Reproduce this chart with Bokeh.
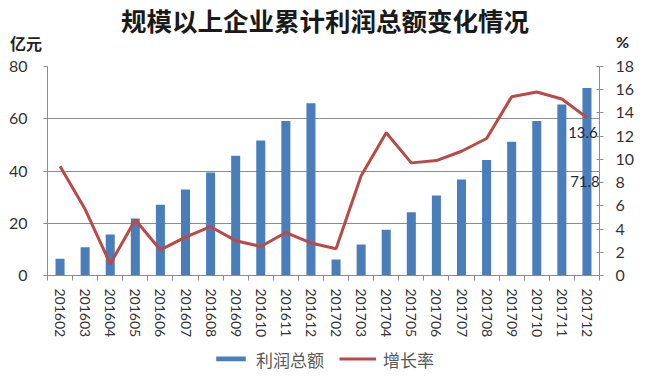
import numpy as np
from bokeh.plotting import figure
from bokeh.layouts import column
from bokeh.models import (Range1d, LinearAxis, FixedTicker, CustomJSTickFormatter,
                          Legend, LegendItem, ColumnDataSource, Div)
from bokeh.core.properties import value
from bokeh.embed import file_html
from bokeh.resources import INLINE

# ---- data ----
months = ["201602", "201603", "201604", "201605", "201606", "201607", "201608",
          "201609", "201610", "201611", "201612",
          "201702", "201703", "201704", "201705", "201706", "201707", "201708",
          "201709", "201710", "201711", "201712"]
profit = [6.4, 10.8, 15.7, 21.8, 27.1, 32.9, 39.4, 45.8, 51.7, 59.1, 65.9,
          6.1, 11.9, 17.5, 24.2, 30.6, 36.7, 44.2, 51.2, 59.1, 65.5, 71.8]
growth = [9.4, 5.7, 1.0, 4.8, 2.2, 3.3, 4.2, 3.0, 2.5, 3.7, 2.8,
          2.3, 8.6, 12.3, 9.7, 9.9, 10.7, 11.8, 15.4, 15.8, 15.2, 13.6]
left_ticks = [0, 20, 40, 60, 80]
right_ticks = [0, 2, 4, 6, 8, 10, 12, 14, 16, 18]
title_text = "规模以上企业累计利润总额变化情况"
left_unit = "亿元"
right_unit = "%"
series_names = ["利润总额", "增长率"]

BLUE = "#4a7ebb"
RED = "#b94a48"
GRID = "#8c8c8c"
TXT = "#333333"
NUM_FONT = "Lato"
CJK = "Noto Sans CJK SC"

n = len(months)
xc = np.arange(n) + 0.5
src = ColumnDataSource(dict(x=xc, profit=profit, growth=growth, m=months))

# ---------- header: title and unit labels ----------
cjk_css = f"'{CJK}', sans-serif"
head_html = (
    '<div style="position:relative;width:650px;height:52px;">'
    f'<div style="position:absolute;left:0;top:7px;width:650px;text-align:center;'
    f'font-family:{cjk_css};font-size:25.5px;font-weight:bold;line-height:26px;'
    f'color:#1a1a1a;white-space:nowrap;">{title_text}</div>'
    f'<div style="position:absolute;left:10px;top:35px;font-family:{cjk_css};'
    f'font-size:16px;font-weight:bold;line-height:16px;color:#222;">{left_unit}</div>'
    f'<div style="position:absolute;left:616px;top:34px;font-family:{NUM_FONT};'
    f'font-size:16px;font-weight:bold;line-height:16px;color:#222;">{right_unit}</div>'
    '</div>'
)
head = Div(text=head_html, width=650, height=52, margin=0)

# ---------- main chart ----------
p = figure(width=650, height=289, output_backend="svg", toolbar_location=None,
           x_range=Range1d(0, n), y_range=Range1d(0, 80),
           min_border_left=47, min_border_right=51, min_border_top=14,
           min_border_bottom=66, x_axis_location=None, y_axis_location=None,
           margin=0)
p.outline_line_color = None
p.extra_y_ranges = {"pct": Range1d(0, 18)}

yl = LinearAxis(ticker=FixedTicker(ticks=left_ticks))
yr = LinearAxis(y_range_name="pct", ticker=FixedTicker(ticks=right_ticks))
xa = LinearAxis(ticker=FixedTicker(ticks=list(xc), minor_ticks=list(range(n + 1))),
                formatter=CustomJSTickFormatter(args=dict(labels=months),
                                                code="return labels[Math.floor(tick)];"))
for ax in (yl, yr, xa):
    ax.axis_line_color = GRID
    ax.major_tick_line_color = GRID
    ax.minor_tick_line_color = GRID
    ax.major_label_text_color = TXT
    ax.major_label_text_font = NUM_FONT
    ax.major_tick_in = 0
    ax.minor_tick_in = 0
    ax.minor_tick_out = 0
    ax.major_tick_out = 4
    ax.major_label_text_font_size = "16px"
yl.major_label_standoff = 16
yr.major_tick_in = 3
yr.major_label_standoff = 12
xa.major_tick_out = 0
xa.minor_tick_out = 5
xa.major_label_orientation = -np.pi / 2
xa.major_label_text_font_size = "14px"
xa.major_label_standoff = 8
p.add_layout(yl, "left")
p.add_layout(yr, "right")
p.add_layout(xa, "below")

p.ygrid.ticker = FixedTicker(ticks=left_ticks)
p.ygrid.grid_line_color = GRID
p.xgrid.grid_line_color = None

bars = p.vbar(x="x", top="profit", width=0.36, source=src, fill_color=BLUE, line_color=None)
line = p.line(x="x", y="growth", source=src, y_range_name="pct", line_color=RED, line_width=3)

last = ColumnDataSource(dict(x=[xc[-1]], g=[growth[-1]], gl=[f"{growth[-1]:.1f}"],
                             ph=[profit[-1] / 2], pl=[f"{profit[-1]:.1f}"]))
p.text(x="x", y="g", text="gl", source=last, y_range_name="pct", y_offset=15, x_offset=-4,
       text_align="center", text_baseline="middle", text_font=value(NUM_FONT),
       text_font_size="15px", text_color="#1f2a3a")
p.text(x="x", y="ph", text="pl", source=last, x_offset=-2,
       text_align="center", text_baseline="middle", text_font=value(NUM_FONT),
       text_font_size="15px", text_color="#1f2a3a")

# ---------- footer: legend ----------
foot = figure(width=650, height=35, output_backend="svg", toolbar_location=None,
              x_range=Range1d(1000, 1001), y_range=Range1d(1000, 1001),
              min_border=0, x_axis_location=None, y_axis_location=None, margin=0)
foot.outline_line_color = None
foot.grid.grid_line_color = None
lb = foot.vbar(x="x", top="profit", width=0.36, source=src, fill_color=BLUE, line_color=None)
ll = foot.line(x="x", y="growth", source=src, line_color=RED, line_width=3)
legend = Legend(items=[LegendItem(label=series_names[0], renderers=[lb]),
                       LegendItem(label=series_names[1], renderers=[ll])],
                orientation="horizontal", location="center")
legend.label_text_font = CJK
legend.label_text_font_size = "17px"
legend.label_text_color = "#595959"
legend.glyph_width = 37
legend.glyph_height = 6
legend.label_standoff = 7
legend.spacing = 15
legend.padding = 0
legend.margin = 0
legend.border_line_color = None
legend.background_fill_alpha = 0
foot.add_layout(legend, "center")

layout = column(head, p, foot, spacing=0)
open("out.html", "w").write(file_html(layout, INLINE))
